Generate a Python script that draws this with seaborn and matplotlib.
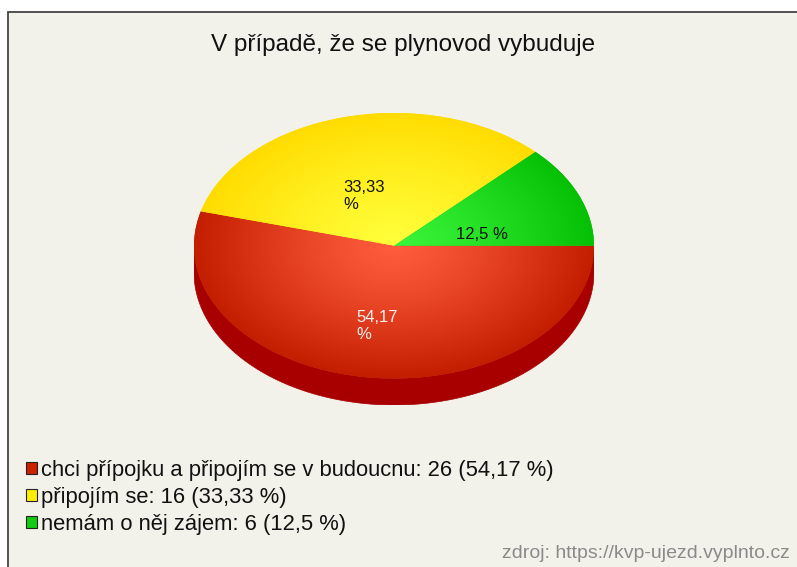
import numpy as np
import matplotlib
matplotlib.use("Agg")
import matplotlib.pyplot as plt
from matplotlib.patches import Rectangle, Polygon, Patch
from matplotlib.colors import to_rgb
import seaborn as sns

# ---- data ----
title = "V případě, že se plynovod vybuduje"
categories = ["chci přípojku a připojím se v budoucnu", "připojím se", "nemám o něj zájem"]
counts = [26, 16, 6]
pct_labels = ["54,17 %", "33,33 %", "12,5 %"]
slice_labels = ["54,17\n%", "33,33\n%", "12,5 %"]
source = "zdroj: https://kvp-ujezd.vyplnto.cz"

# ---- style ----
sns.set_style("white")
plt.rcParams['font.family'] = ['Liberation Sans', 'DejaVu Sans']
center_cols = ["#ff5c3e", "#ffff3a", "#3af53a"]
edge_cols = ["#c41e00", "#ffdc00", "#06c006"]
legend_cols = sns.color_palette(["#cc2200", "#ffee00", "#11cc11"])
side_col = "#a80000"
label_cols = ["#fff0f0", "#111111", "#111111"]

W, H = 797, 567
fig = plt.figure(figsize=(W / 100, H / 100), dpi=100)
fig.patch.set_facecolor("white")
panel = Rectangle((8 / W, -0.1), 1.2, (H - 12) / H + 0.1, transform=fig.transFigure,
                  facecolor="#f3f2ea", edgecolor="#444444", lw=1.3, zorder=-5)
fig.patches.append(panel)

fig.text(403 / W, 1 - 45 / H, title, ha="center", va="center", fontsize=17.5, color="#111111")

# pie axes (elliptical by axes scaling)
depth = 0.2
ax = fig.add_axes([194 / W, (H - 405) / H, 400 / W, (405 - 113) / H])
ax.set_facecolor("none")
ax.set_zorder(2)

total = sum(counts)
fracs = [c / total for c in counts]
wedges, _ = ax.pie(counts, colors=edge_cols, startangle=0, counterclock=False,
                   radius=1, center=(0, 0), wedgeprops=dict(linewidth=0))

# 3D side walls (front half only)
ang = 0.0
for i, f in enumerate(fracs):
    a1 = ang - 360 * f
    a2 = ang
    ang = a1
    lo, hi = max(a1, -180), min(a2, 0)
    if hi > lo:
        t = np.radians(np.linspace(lo, hi, 120))
        top = np.column_stack([np.cos(t), np.sin(t)])
        bot = np.column_stack([np.cos(t[::-1]), np.sin(t[::-1]) - depth])
        ax.add_patch(Polygon(np.vstack([top, bot]), closed=True, facecolor=side_col,
                             edgecolor=side_col, lw=0.5, zorder=0.5))

# radial gradient on top faces
xs = np.linspace(-1, 1, 400)
X, Y = np.meshgrid(xs, xs)
R = np.clip(np.sqrt(X ** 2 + Y ** 2), 0, 1)
for w, c0, c1 in zip(wedges, center_cols, edge_cols):
    a = np.array(to_rgb(c0))
    b = np.array(to_rgb(c1))
    k = (R ** 1.2)[..., None]
    img = a * (1 - k) + b * k
    im = ax.imshow(img, extent=(-1, 1, -1, 1), origin="lower", aspect="auto", zorder=2,
                   interpolation="bilinear")
    im.set_clip_path(w)

# slice labels
label_r = 0.5
label_dy = -0.11
ang = 0.0
for i, f in enumerate(fracs):
    mid = np.radians(ang - 180 * f)
    ang -= 360 * f
    ax.text(label_r * np.cos(mid) - 0.02, label_r * np.sin(mid) + label_dy, slice_labels[i],
            ha="center", va="center", multialignment="left", fontsize=12,
            color=label_cols[i], zorder=5)

ax.set_xlim(-1, 1)
ax.set_ylim(-1 - depth, 1)
ax.set_aspect("auto")
ax.axis("off")

# legend
handles = [Patch(facecolor=legend_cols[i], edgecolor="#222222", lw=0.8) for i in range(len(categories))]
labels = [f"{categories[i]}: {counts[i]} ({pct_labels[i]})" for i in range(len(categories))]
leg = fig.legend(handles, labels, loc="upper left", bbox_to_anchor=(26 / W, 1 - 460 / H),
                 frameon=False, fontsize=15.8, handlelength=0.5, handleheight=0.5,
                 handletextpad=0.2, labelspacing=0.27, borderpad=0, borderaxespad=0)
for t in leg.get_texts():
    t.set_color("#111111")

fig.text(790 / W, 1 - 553 / H, source, ha="right", va="center", fontsize=14, color="#8a8a8a")

fig.savefig("out.png", dpi=100, facecolor=fig.get_facecolor())
